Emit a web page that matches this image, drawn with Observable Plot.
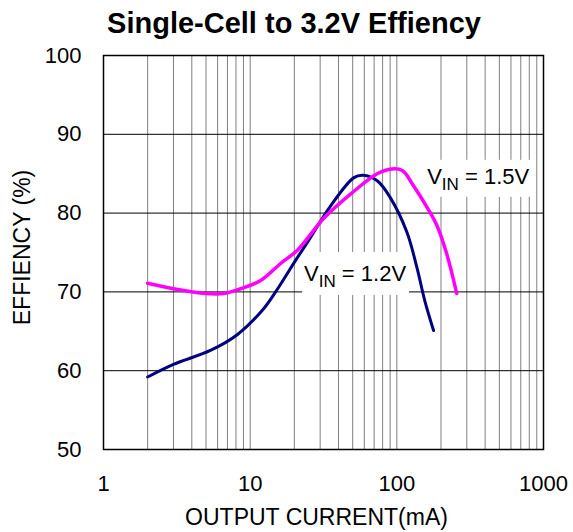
<!DOCTYPE html>
<html>
<head>
<meta charset="utf-8">
<script src="https://cdn.jsdelivr.net/npm/d3@7"></script>
<script src="https://cdn.jsdelivr.net/npm/@observablehq/plot@0.6"></script>
<style>
  html, body { margin: 0; padding: 0; background: white; }
</style>
</head>
<body>
<div id="chart"></div>
<script>
// ---- data ----
const titleText = "Single-Cell to 3.2V Effiency";
const xLabelText = "OUTPUT CURRENT(mA)";
const yLabelText = "EFFIENCY (%)";

const xTicks = [1, 10, 100, 1000];
const yTicks = [50, 60, 70, 80, 90, 100];

// V_IN = 1.2V (navy)
const current12 = [2, 3, 5.4, 8.2, 12.4, 15.4, 20.4, 25, 35, 51, 59, 73.5, 90, 117, 137, 155, 178];
const eff12     = [59.2, 60.8, 62.6, 64.6, 67.9, 70.4, 74.0, 76.5, 80.8, 84.5, 84.8, 84.1, 82.0, 77.6, 73.1, 68.9, 65.1];

// V_IN = 1.5V (magenta)
const current15 = [2, 3, 5, 6.6, 8.6, 11.7, 16.1, 21, 32, 49, 73.5, 92.6, 109, 129.5, 160, 188, 219, 256];
const eff15     = [71.1, 70.4, 69.8, 69.8, 70.4, 71.4, 73.6, 75.3, 79.4, 82.5, 85.0, 85.6, 85.4, 83.5, 80.8, 78.4, 74.8, 69.8];

// curve labels: subscript part, rest, anchor (x in mA, y in %)
const labelMain = ["V", "V"];
const labelSub = ["IN", "IN"];
const labelRest = [" = 1.5V", " = 1.2V"];
const labelX = [161, 23.3];
const labelY = [84.65, 72.3];
// white boxes behind the labels
const boxX1 = [153, 22.8];
const boxX2 = [837, 122];
const boxY1 = [82.0, 69.55];
const boxY2 = [86.7, 75.0];

// ---- build ----
const s12 = current12.map((c, i) => ({x: c, y: eff12[i]}));
const s15 = current15.map((c, i) => ({x: c, y: eff15[i]}));
const labels = labelMain.map((m, i) => ({main: m, sub: labelSub[i], rest: labelRest[i], x: labelX[i], y: labelY[i]}));
const boxes = boxX1.map((v, i) => ({x1: v, x2: boxX2[i], y1: boxY1[i], y2: boxY2[i]}));

const xGrid = d3.scaleLog().domain([xTicks[0], xTicks[xTicks.length - 1]]).ticks()
  .filter(v => v > xTicks[0] && v < xTicks[xTicks.length - 1]);
const yGrid = yTicks.slice(1, -1);

const FONT = "'Liberation Sans', Arial, Helvetica, sans-serif";

const chart = Plot.plot({
  width: 573,
  height: 532,
  marginLeft: 103,
  marginRight: 30,
  marginTop: 55,
  marginBottom: 83,
  style: {fontFamily: FONT, fontSize: "22px", color: "black", background: "white"},
  x: {type: "log", domain: [1, 1000]},
  y: {domain: [50, 100]},
  marks: [
    Plot.ruleX(xGrid, {stroke: "#808080", strokeWidth: 1}),
    Plot.ruleY(yGrid, {stroke: "black", strokeWidth: 1}),
    Plot.rect(boxes, {x1: "x1", x2: "x2", y1: "y1", y2: "y2", fill: "white"}),
    Plot.line(s12, {x: "x", y: "y", stroke: "#000080", strokeWidth: 3, curve: "catmull-rom"}),
    Plot.line(s15, {x: "x", y: "y", stroke: "#ff00ff", strokeWidth: 3.5, curve: "catmull-rom"}),
    Plot.text(labels, {
      x: "x", y: "y", text: d => d.main + d.sub + d.rest,
      textAnchor: "start", lineAnchor: "middle", fontSize: 22, fill: "black",
      render(index, scales, values, dimensions, context, next) {
        const g = next(index, scales, values, dimensions, context);
        d3.select(g).selectAll("text").each(function(_, j) {
          const d = labels[index[j]];
          const t = d3.select(this);
          t.text(null);
          t.append("tspan").text(d.main);
          t.append("tspan").attr("font-size", 17).attr("dy", 6).text(d.sub);
          t.append("tspan").attr("dy", -6).text(d.rest);
        });
        return g;
      }
    }),
    Plot.frame({stroke: "black", strokeWidth: 1.5}),
    Plot.axisX(xTicks, {tickSize: 0, tickPadding: 26, fontSize: 22, label: null, tickFormat: d => String(d)}),
    Plot.axisY(yTicks, {tickSize: 0, tickPadding: 22, fontSize: 22, label: null, tickFormat: d => String(d)}),
    Plot.text([titleText], {frameAnchor: "top", textAnchor: "middle", dx: -29.5, dy: -32, fontSize: 29, fontWeight: "bold", lineAnchor: "middle"}),
    Plot.text([xLabelText], {frameAnchor: "bottom", textAnchor: "middle", dx: -7, dy: 68, fontSize: 23, lineAnchor: "middle"}),
    Plot.text([yLabelText], {frameAnchor: "left", textAnchor: "middle", dx: -80.5, dy: -5, rotate: -90, fontSize: 23, lineAnchor: "middle"})
  ]
});
document.getElementById("chart").appendChild(chart);
</script>
</body>
</html>
